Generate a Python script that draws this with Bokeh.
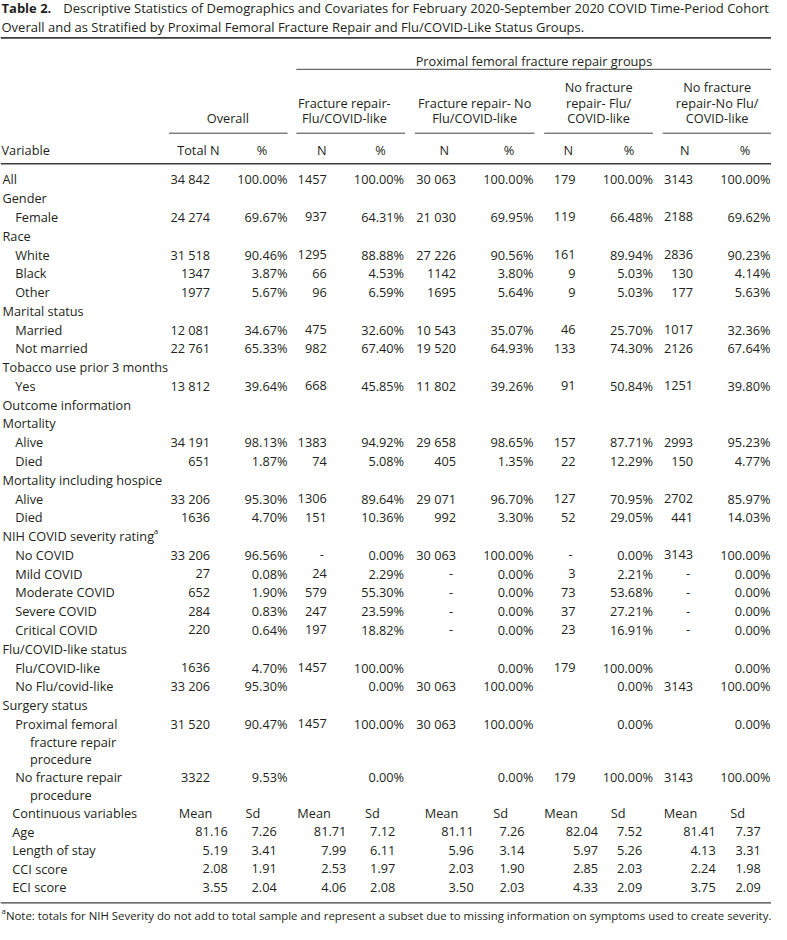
from bokeh.plotting import figure
from bokeh.models import ColumnDataSource, Range1d
from bokeh.core.properties import value
from bokeh.embed import file_html
from bokeh.resources import INLINE

# ---------------- data ----------------
title_bold = "Table 2."
title_line1 = ("Descriptive Statistics of Demographics and Covariates for February 2020-September "
               "2020 COVID Time-Period Cohort")
title_line2 = "Overall and as Stratified by Proximal Femoral Fracture Repair and Flu/COVID-Like Status Groups."
spanner = "Proximal femoral fracture repair groups"
group_headers = ["Overall", "Fracture repair-\nFlu/COVID-like", "Fracture repair- No\nFlu/COVID-like",
                 "No fracture\nrepair- Flu/\nCOVID-like", "No fracture\nrepair-No Flu/\nCOVID-like"]
col_headers = ["Total N", "%", "N", "%", "N", "%", "N", "%", "N", "%"]

variables = ["All", "Gender", "Female", "Race", "White", "Black", "Other", "Marital status", "Married",
             "Not married", "Tobacco use prior 3 months", "Yes", "Outcome information", "Mortality",
             "Alive", "Died", "Mortality including hospice", "Alive", "Died", "NIH COVID severity rating",
             "No COVID", "Mild COVID", "Moderate COVID", "Severe COVID", "Critical COVID",
             "Flu/COVID-like status", "Flu/COVID-like", "No Flu/covid-like", "Surgery status",
             "Proximal femoral\nfracture repair\nprocedure", "No fracture repair\nprocedure"]
indent = [0, 0, 1, 0, 1, 1, 1, 0, 1, 1, 0, 1, 0, 0, 1, 1, 0, 1, 1, 0, 1, 1, 1, 1, 1, 0, 1, 1, 0, 1, 1]

overall_n = ["34 842", "", "24 274", "", "31 518", "1347", "1977", "", "12 081", "22 761", "", "13 812", "", "",
             "34 191", "651", "", "33 206", "1636", "", "33 206", "27", "652", "284", "220", "",
             "1636", "33 206", "", "31 520", "3322"]
overall_pct = ["100.00%", "", "69.67%", "", "90.46%", "3.87%", "5.67%", "", "34.67%", "65.33%", "", "39.64%", "", "",
               "98.13%", "1.87%", "", "95.30%", "4.70%", "", "96.56%", "0.08%", "1.90%", "0.83%", "0.64%", "",
               "4.70%", "95.30%", "", "90.47%", "9.53%"]
frflu_n = ["1457", "", "937", "", "1295", "66", "96", "", "475", "982", "", "668", "", "",
           "1383", "74", "", "1306", "151", "", "-", "24", "579", "247", "197", "",
           "1457", "", "", "1457", ""]
frflu_pct = ["100.00%", "", "64.31%", "", "88.88%", "4.53%", "6.59%", "", "32.60%", "67.40%", "", "45.85%", "", "",
             "94.92%", "5.08%", "", "89.64%", "10.36%", "", "0.00%", "2.29%", "55.30%", "23.59%", "18.82%", "",
             "100.00%", "0.00%", "", "100.00%", "0.00%"]
frnoflu_n = ["30 063", "", "21 030", "", "27 226", "1142", "1695", "", "10 543", "19 520", "", "11 802", "", "",
             "29 658", "405", "", "29 071", "992", "", "30 063", "-", "-", "-", "-", "",
             "", "30 063", "", "30 063", ""]
frnoflu_pct = ["100.00%", "", "69.95%", "", "90.56%", "3.80%", "5.64%", "", "35.07%", "64.93%", "", "39.26%", "", "",
               "98.65%", "1.35%", "", "96.70%", "3.30%", "", "100.00%", "0.00%", "0.00%", "0.00%", "0.00%", "",
               "0.00%", "100.00%", "", "100.00%", "0.00%"]
nofrflu_n = ["179", "", "119", "", "161", "9", "9", "", "46", "133", "", "91", "", "",
             "157", "22", "", "127", "52", "", "-", "3", "73", "37", "23", "",
             "179", "", "", "", "179"]
nofrflu_pct = ["100.00%", "", "66.48%", "", "89.94%", "5.03%", "5.03%", "", "25.70%", "74.30%", "", "50.84%", "", "",
               "87.71%", "12.29%", "", "70.95%", "29.05%", "", "0.00%", "2.21%", "53.68%", "27.21%", "16.91%", "",
               "100.00%", "0.00%", "", "0.00%", "100.00%"]
nofrnoflu_n = ["3143", "", "2188", "", "2836", "130", "177", "", "1017", "2126", "", "1251", "", "",
               "2993", "150", "", "2702", "441", "", "3143", "-", "-", "-", "-", "",
               "", "3143", "", "", "3143"]
nofrnoflu_pct = ["100.00%", "", "69.62%", "", "90.23%", "4.14%", "5.63%", "", "32.36%", "67.64%", "", "39.80%", "", "",
                 "95.23%", "4.77%", "", "85.97%", "14.03%", "", "100.00%", "0.00%", "0.00%", "0.00%", "0.00%", "",
                 "0.00%", "100.00%", "", "0.00%", "100.00%"]

cont_title = "Continuous variables"
cont_headers = ["Mean", "Sd"]
cont_vars = ["Age", "Length of stay", "CCI score", "ECI score"]
overall_mean = ["81.16", "5.19", "2.08", "3.55"]
overall_sd = ["7.26", "3.41", "1.91", "2.04"]
frflu_mean = ["81.71", "7.99", "2.53", "4.06"]
frflu_sd = ["7.12", "6.11", "1.97", "2.08"]
frnoflu_mean = ["81.11", "5.96", "2.03", "3.50"]
frnoflu_sd = ["7.26", "3.14", "1.90", "2.03"]
nofrflu_mean = ["82.04", "5.97", "2.85", "4.33"]
nofrflu_sd = ["7.52", "5.26", "2.03", "2.09"]
nofrnoflu_mean = ["81.41", "4.13", "2.24", "3.75"]
nofrnoflu_sd = ["7.37", "3.31", "1.98", "2.09"]

footnote = ("Note: totals for NIH Severity do not add to total sample and represent a subset due to "
            "missing information on symptoms used to create severity.")
footnote_mark = "a"
note_row = "NIH COVID severity rating"

# ---------------- layout ----------------
W_REF, H_REF = 787, 940
W, H = 771, 924
S = W / W_REF
FONT = "Open Sans"
INK = "#231f20"
RULE = "#3c3c3c"


def fs(px):
    return value(f"{px * S:.2f}px")


p = figure(width=W, height=H, x_range=Range1d(0, W_REF), y_range=Range1d(H_REF, 0),
           output_backend="svg", toolbar_location=None, min_border=0)
p.axis.visible = False
p.grid.visible = False
p.outline_line_color = None
p.background_fill_color = "white"
p.border_fill_color = "white"


def add_text(xs, ys, texts, align="left", size=13.0, style="normal", color=INK):
    src = ColumnDataSource(dict(x=xs, y=ys, t=texts))
    p.text(x="x", y="y", text="t", source=src, text_align=align, text_baseline="middle",
           text_font=value(FONT), text_font_size=fs(size), text_font_style=style, text_color=color)


BODY = 13.0

# title
add_text([1], [8], [title_bold], size=13.3, style="bold")
add_text([64], [8], [title_line1], size=13.3)
add_text([1], [26.5], [title_line2], size=13.3)

# rules
rules = [(0, 38, W_REF, 38, 1.8), (302, 70, W_REF, 70, 1.0), (0, 166, W_REF, 166, 1.6),
         (0, 918, W_REF, 918, 1.2)]
group_spans = [(172, 293), (302, 413), (423, 545), (555, 666), (676, 787)]
for a, b in group_spans:
    rules.append((a, 135, b, 135, 1.0))
p.segment(x0=[r[0] for r in rules], y0=[r[1] for r in rules], x1=[r[2] for r in rules],
          y1=[r[3] for r in rules], line_width=[r[4] * S for r in rules], line_color=RULE)

# spanner
add_text([544.5], [62], [spanner], align="center", size=BODY)

# group headers (bottom aligned)
group_centers = [232, 351, 484, 610.5, 731.5]
gx, gy, gt = [], [], []
for c, h in zip(group_centers, group_headers):
    lines = h.split("\n")
    for k, ln in enumerate(lines):
        gx.append(c)
        gy.append(119.5 - 15.5 * (len(lines) - 1 - k))
        gt.append(ln)
add_text(gx, gy, gt, align="center", size=BODY)

# column headers
add_text([1], [152], ["Variable"], size=BODY)
col_centers = [202, 267, 328, 388, 453, 519, 579.5, 641.5, 698.5, 760]
add_text(col_centers, [152] * len(col_centers), col_headers, align="center", size=BODY)

# body rows
PITCH, WRAP = 19.1, 18.1
row_y = []
lab_x, lab_y, lab_t = [], [], []
y = 182.0
for i, (v, ind) in enumerate(zip(variables, indent)):
    if i > 0:
        y += WRAP if "\n" in variables[i - 1] else PITCH
    row_y.append(y)
    lines = v.split("\n")
    for k, ln in enumerate(lines):
        lab_x.append(2 + 13 * ind + (15 if k > 0 else 0))
        lab_y.append(y + WRAP * k)
        lab_t.append(ln)
    y += WRAP * (len(lines) - 1)
add_text(lab_x, lab_y, lab_t, size=BODY)

# superscript on NIH row
ni = variables.index(note_row)
add_text([156.5], [row_y[ni] - 5], [footnote_mark], size=8)

columns = [overall_n, overall_pct, frflu_n, frflu_pct, frnoflu_n, frnoflu_pct,
           nofrflu_n, nofrflu_pct, nofrnoflu_n, nofrnoflu_pct]
right_edges = [214, 293, 333, 412, 465, 544, 587, 666, 707, 786]
vx, vy, vt = [], [], []
for col, rx in zip(columns, right_edges):
    for val, yy in zip(col, row_y):
        if val:
            vx.append(rx - (3 if val == "-" else 0))
            vy.append(yy)
            vt.append(val)
add_text(vx, vy, vt, align="right", size=BODY)

# continuous block
cy0 = y + 18.75
add_text([12], [cy0], [cont_title], size=BODY)
mean_left = [182, 303, 433, 555, 677]
sd_left = [250, 372, 503, 623, 745]
add_text(mean_left + sd_left, [cy0] * 10, [cont_headers[0]] * 5 + [cont_headers[1]] * 5, size=BODY)
cont_rows_y = [cy0 + 18.75 * (k + 1) for k in range(len(cont_vars))]
add_text([12] * len(cont_vars), cont_rows_y, cont_vars, size=BODY)
means = [overall_mean, frflu_mean, frnoflu_mean, nofrflu_mean, nofrnoflu_mean]
sds = [overall_sd, frflu_sd, frnoflu_sd, nofrflu_sd, nofrnoflu_sd]
mean_right = [232, 353, 483, 610, 730]
sd_right = [282, 403, 535, 655, 776]
cx, cyy, ct = [], [], []
for col, rx in list(zip(means, mean_right)) + list(zip(sds, sd_right)):
    for val, yy in zip(col, cont_rows_y):
        cx.append(rx)
        cyy.append(yy)
        ct.append(val)
add_text(cx, cyy, ct, align="right", size=BODY)

# footnote
add_text([1], [926.5], [footnote_mark], size=8)
add_text([5.5], [931], [footnote], size=11.65)

open("out.html", "w").write(file_html(p, INLINE))
